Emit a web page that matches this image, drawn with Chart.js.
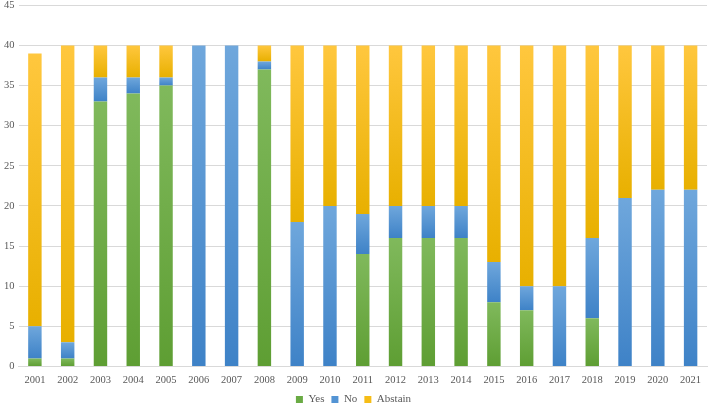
<!DOCTYPE html>
<html>
<head>
<meta charset="utf-8">
<script src="https://cdn.jsdelivr.net/npm/chart.js@4"></script>
<style>
  body { margin: 0; background: #ffffff; overflow: hidden; }
  #wrap { width: 709px; height: 404px; overflow: hidden; }
  canvas { display: block; margin-top: -5px; }
</style>
</head>
<body>
<div id="wrap"><canvas id="voteChart" width="709" height="409"></canvas></div>
<script>
var years = ["2001", "2002", "2003", "2004", "2005", "2006", "2007", "2008", "2009", "2010", "2011",
             "2012", "2013", "2014", "2015", "2016", "2017", "2018", "2019", "2020", "2021"];
var yes =     [1, 1, 33, 34, 35, 0, 0, 37, 0, 0, 14, 16, 16, 16, 8, 7, 0, 6, 0, 0, 0];
var no =      [4, 2, 3, 2, 1, 40, 40, 1, 18, 20, 5, 4, 4, 4, 5, 3, 10, 10, 21, 22, 22];
var abstain = [34, 37, 4, 4, 4, 0, 0, 2, 22, 20, 21, 20, 20, 20, 27, 30, 30, 24, 19, 18, 18];
var yTicks = [0, 5, 10, 15, 20, 25, 30, 35, 40, 45];

var series = [yes, no, abstain];

function segmentGradient(seriesIndex, top, bottom) {
    return function (context) {
        var chart = context.chart;
        var y = chart.scales.y;
        if (!y || context.type !== "data") return bottom;
        var i = context.dataIndex;
        var start = 0;
        for (var s = 0; s < seriesIndex; s++) start += series[s][i];
        var end = start + series[seriesIndex][i];
        var y0 = y.getPixelForValue(start);
        var y1 = y.getPixelForValue(end);
        if (!isFinite(y0) || !isFinite(y1) || y0 === y1) return bottom;
        var g = chart.ctx.createLinearGradient(0, y1, 0, y0);
        g.addColorStop(0, top);
        g.addColorStop(1, bottom);
        return g;
    };
}

var ctx = document.getElementById("voteChart").getContext("2d");

var myChart = new Chart(ctx, {
    type: "bar",
    data: {
        labels: years,
        datasets: [{
            label: "Yes",
            data: yes,
            backgroundColor: segmentGradient(0, "#80b95c", "#5e9e33"),
            borderWidth: 0
        }, {
            label: "No",
            data: no,
            backgroundColor: segmentGradient(1, "#6fa7dc", "#3e82c7"),
            borderWidth: 0
        }, {
            label: "Abstain",
            data: abstain,
            backgroundColor: segmentGradient(2, "#ffc73e", "#e8b000"),
            borderWidth: 0
        }]
    },
    options: {
        responsive: false,
        animation: false,
        barPercentage: 0.41,
        categoryPercentage: 1.0,
        layout: { padding: { top: -9, left: 0, right: 2, bottom: -11 } },
        plugins: {
            tooltip: { enabled: false },
            legend: {
                position: "bottom",
                labels: {
                    boxWidth: 7,
                    boxHeight: 7,
                    padding: 7,
                    color: "#595959",
                    font: { family: "Liberation Serif", size: 11 },
                    generateLabels: function (chart) {
                        var fills = ["#6aab44", "#5394d4", "#f6bd16"];
                        return chart.data.datasets.map(function (d, i) {
                            return {
                                text: d.label,
                                fillStyle: fills[i],
                                strokeStyle: fills[i],
                                lineWidth: 0,
                                datasetIndex: i,
                                fontColor: "#595959"
                            };
                        });
                    }
                }
            }
        },
        scales: {
            x: {
                stacked: true,
                grid: { display: false },
                border: { color: "#d9d9d9" },
                ticks: {
                    color: "#595959",
                    maxRotation: 0,
                    autoSkip: false,
                    padding: 0,
                    font: { family: "Liberation Serif", size: 10.5 }
                }
            },
            y: {
                stacked: true,
                min: 0,
                max: 45,
                afterBuildTicks: function (axis) {
                    axis.ticks = yTicks.map(function (v) { return { value: v }; });
                },
                grid: { color: "#d9d9d9", drawTicks: false },
                border: { display: false },
                ticks: {
                    color: "#595959",
                    padding: 4,
                    font: { family: "Liberation Serif", size: 10.5 }
                }
            }
        }
    }
});
</script>
</body>
</html>
